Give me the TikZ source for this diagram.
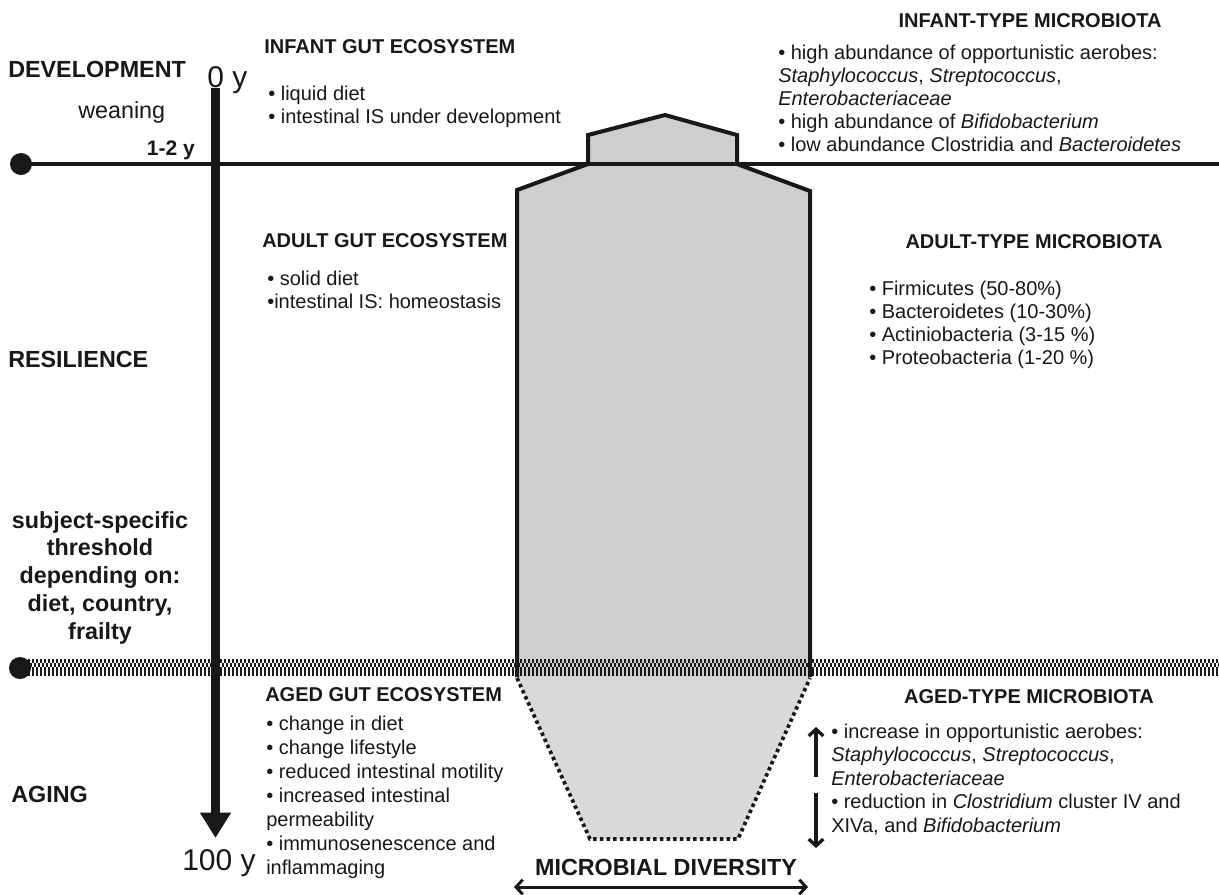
\documentclass[tikz,border=0pt]{standalone}
\usepackage{fontspec}
\setmainfont{Liberation Sans}
\usetikzlibrary{arrows.meta}
\definecolor{ink}{RGB}{24,24,24}
\definecolor{shapegray}{RGB}{206,206,206}
\definecolor{palegray}{RGB}{217,217,217}
\begin{document}
\begin{tikzpicture}[x=0.75pt,y=-0.75pt,
  bodytxt/.style={font=\fontsize{15}{17.5}\selectfont, inner sep=0pt, anchor=base west, text=ink},
  hdr/.style={font=\fontsize{15}{17.5}\selectfont\bfseries, inner sep=0pt, text=ink},
  phase/.style={font=\fontsize{17.5}{21}\selectfont\bfseries, inner sep=0pt, text=ink},
  agetxt/.style={font=\fontsize{22.5}{26}\selectfont, inner sep=0pt, anchor=base west, text=ink},
  dotnode/.style={circle, fill=ink, minimum size=16.5pt, inner sep=0pt},
  outline/.style={draw=ink, line width=3pt, line join=miter},
  dotborder/.style={draw=ink, line width=2.8pt, dash pattern=on 2.6pt off 2.4pt},
  bandrow/.style={draw=ink, dash pattern=on 1.5pt off 1.5pt},
  smallarrow/.style={draw=ink, line width=2.5pt, -{Straight Barb[length=5pt,width=11pt]}},
]
\useasboundingbox (0,0) rectangle (1219,894);

% ---- shapes ----
\fill[shapegray] (588,164) -- (517,190) -- (517,677) -- (810,677) -- (810,191) -- (737,164) -- cycle;
\fill[shapegray] (588,164) -- (588,135) -- (665,115) -- (737,135) -- (737,164) -- cycle;
\fill[palegray] (517,677) -- (810,677) -- (738,839) -- (590,839) -- cycle;
\draw[outline] (588,164) -- (588,135) -- (665,115) -- (737,135) -- (737,164);
\draw[outline] (517,677) -- (517,190) -- (588,164);
\draw[outline] (810,677) -- (810,191) -- (737,164);
\draw[dotborder] (517,678) -- (590,839) -- (738,839) -- (810,678);

% ---- development line ----
\node[dotnode] (devdot) at (21,164) {};
\coordinate (devend) at (1219,164);
\draw[ink, line width=3pt] (devdot.center) -- (devend);

% ---- threshold band ----
\node[dotnode] (agedot) at (20,668) {};
\coordinate (bandAs) at (28,661);  \coordinate (bandAe) at (1219,661);
\coordinate (bandBs) at (28,665);  \coordinate (bandBe) at (1219,665);
\coordinate (bandCs) at (28,671.5);\coordinate (bandCe) at (1219,671.5);
\draw[bandrow, line width=3pt] (bandAs) -- (bandAe);
\draw[bandrow, line width=3pt, dash phase=1.5pt] (bandBs) -- (bandBe);
\draw[bandrow, line width=6.75pt] (bandCs) -- (bandCe);

% ---- time arrow ----
\coordinate (tstart) at (215.5,88);
\coordinate (tend) at (215.5,838);
\draw[ink, line width=6.75pt, -{Triangle[width=22pt,length=19pt]}] (tstart) -- (tend);

% ---- left labels ----
\node[phase, anchor=base west] (development) at (8,77) {DEVELOPMENT};
\node[font=\fontsize{17.5}{21}\selectfont, inner sep=0pt, anchor=base west, text=ink] (weaning) at (78,118) {weaning};
\node[font=\fontsize{15.75}{18}\selectfont\bfseries, inner sep=0pt, anchor=base east, text=ink] (onetwo) at (195,155) {1-2 y};
\node[agetxt] (zeroy) at (207,87) {0 y};
\node[agetxt] (hundredy) at (182,870) {100 y};
\node[phase, anchor=base west] (resilience) at (8,367) {RESILIENCE};
\foreach \t [count=\i] in {subject-specific,threshold,depending on:,{diet, country,},frailty}
  \node[phase, anchor=base] (thr\i) at (100,{528+27.75*(\i-1)}) {\t};
\node[phase, anchor=base west] (aging) at (11,802) {AGING};

% ---- infant gut ecosystem ----
\node[hdr, anchor=base west] (infgut) at (264,53) {INFANT GUT ECOSYSTEM};
\foreach \t [count=\i] in {• liquid diet,• intestinal IS under development}
  \node[bodytxt] (infgut\i) at (268,{100+23*(\i-1)}) {\t};

% ---- infant-type microbiota ----
\node[hdr, anchor=base] (inftype) at (1030,27) {INFANT-TYPE MICROBIOTA};
\foreach \t [count=\i] in {• high abundance of opportunistic aerobes:,
  {\textit{Staphylococcus}, \textit{Streptococcus},},
  \textit{Enterobacteriaceae},
  {• high abundance of \textit{Bifidobacterium}},
  {• low abundance Clostridia and \textit{Bacteroidetes}}}
  \node[bodytxt] (inftype\i) at (778,{59+23.2*(\i-1)}) {\t};

% ---- adult gut ecosystem ----
\node[hdr, anchor=base west] (adgut) at (262,247) {ADULT GUT ECOSYSTEM};
\foreach \t [count=\i] in {• solid diet,•intestinal IS: homeostasis}
  \node[bodytxt] (adgut\i) at (267,{285+23*(\i-1)}) {\t};

% ---- adult-type microbiota ----
\node[hdr, anchor=base] (adtype) at (1034,248) {ADULT-TYPE MICROBIOTA};
\foreach \t [count=\i] in {• Firmicutes (50-80\%),• Bacteroidetes (10-30\%),
  • Actiniobacteria (3-15 \%),• Proteobacteria (1-20 \%)}
  \node[bodytxt] (adtype\i) at (869,{295+23.2*(\i-1)}) {\t};

% ---- aged gut ecosystem ----
\node[hdr, anchor=base west] (aggut) at (265,701) {AGED GUT ECOSYSTEM};
\foreach \t [count=\i] in {• change in diet,• change lifestyle,• reduced intestinal motility,
  • increased intestinal,permeability,• immunosenescence and,inflammaging}
  \node[bodytxt] (aggut\i) at (266,{730+24.1*(\i-1)}) {\t};

% ---- aged-type microbiota ----
\node[hdr, anchor=base] (agtype) at (1029,703) {AGED-TYPE MICROBIOTA};
\foreach \t [count=\i] in {• increase in opportunistic aerobes:,
  {\textit{Staphylococcus}, \textit{Streptococcus},},
  \textit{Enterobacteriaceae},
  {• reduction in \textit{Clostridium} cluster IV and},
  {XIVa, and \textit{Bifidobacterium}}}
  \node[bodytxt] (agtype\i) at (831,{738+23.5*(\i-1)}) {\t};
\coordinate (upS) at (816,777); \coordinate (upE) at (816,727);
\coordinate (dnS) at (816,793); \coordinate (dnE) at (816,848);
\draw[smallarrow] (upS) -- (upE);
\draw[smallarrow] (dnS) -- (dnE);

% ---- microbial diversity ----
\node[phase, anchor=base] (diversity) at (666,875) {MICROBIAL DIVERSITY};
\coordinate (divL) at (514,887); \coordinate (divR) at (808,887);
\draw[ink, line width=2.25pt, {Straight Barb[length=5pt,width=11pt]}-{Straight Barb[length=5pt,width=11pt]}] (divL) -- (divR);
\end{tikzpicture}
\end{document}
